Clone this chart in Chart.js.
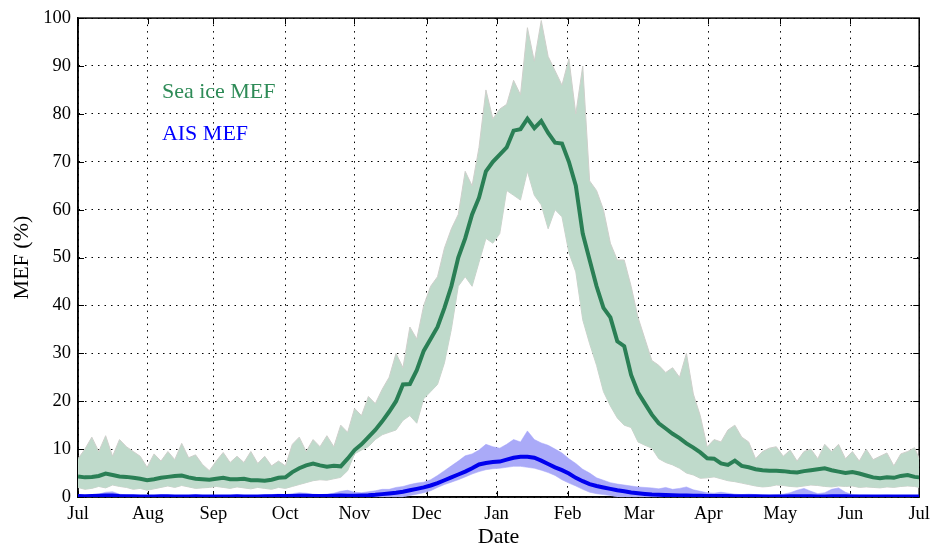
<!DOCTYPE html>
<html>
<head>
<meta charset="utf-8">
<script src="https://cdn.jsdelivr.net/npm/chart.js@4.4.0/dist/chart.umd.min.js"></script>
<style>
  html, body { margin: 0; padding: 0; background: #fff; }
  #wrap { width: 936px; height: 550px; }
</style>
</head>
<body>
<div id="wrap"><canvas id="mefChart" width="936" height="550"></canvas></div>
<script>
// day of season, counted from 1 July
const days = [0,3,6,9,12,15,18,21,24,27,30, 33,36,39,42,45,48,51,54,57,60,
  63,66,69,72,75,78,81,84,87,90, 93,96,99,102,105,108,111,114,117,120,
  123,126,129,132,135,138,141,144,147,150, 153,156,159,162,165,168,171,174,177,180,
  183,186,189,192,195,198,201,204,207,210, 213,216,219,222,225,228,231,234,237,240,
  243,246,249,252,255,258,261,264,267,270, 273,276,279,282,285,288,291,294,297,300,
  303,306,309,312,315,318,321,324,327,330, 333,336,339,342,345,348,351,354,357,360,
  363,365];

const seaIceMean = [4.3,4.1,4.2,4.4,4.9,4.6,4.3,4.2,4.0,3.8,3.5,
  3.7,4.0,4.2,4.4,4.5,4.1,3.8,3.7,3.6,3.8,
  4.0,3.7,3.7,3.8,3.5,3.5,3.4,3.6,4.0,4.1,
  5.2,6.0,6.6,7.0,6.6,6.3,6.5,6.4,8.0,9.8,
  11.0,12.5,14.0,15.8,17.8,20.0,23.5,23.6,26.5,30.5,
  33.0,35.5,39.5,44.0,50.0,54.0,59.0,62.5,68.0,70.0,
  71.5,73.0,76.5,76.8,79.0,77.0,78.5,76.0,74.0,73.8,
  70.0,65.0,55.0,49.5,44.0,39.5,37.5,32.5,31.5,25.5,
  21.8,19.5,17.2,15.4,14.3,13.2,12.3,11.2,10.3,9.3,
  8.1,8.0,7.0,6.7,7.6,6.5,6.2,5.8,5.6,5.5,
  5.5,5.4,5.2,5.1,5.4,5.6,5.8,6.0,5.6,5.3,
  5.0,5.2,4.9,4.5,4.1,3.9,4.1,4.0,4.4,4.6,
  4.2,4.1];

const seaIceHigh = [8,10,12.5,9.5,12.8,8.5,12,10.5,9.5,8.5,6.2,
  9,7.5,9.5,7.8,11.2,8.2,8.8,6.8,5.5,7.5,
  9.3,7.2,8.5,7.2,9.5,7.0,8.5,6.5,7.5,6.5,
  11,12.5,9.5,12,10.5,12.8,10.5,15,13.5,18.5,
  17,21,19.5,22.5,25,30,27,35.5,33,40,
  44,46,52,56,59,68,65,73,85,79,
  81,82,87,84,98,91,99.5,92,89,86,
  91.5,80,90,66,64,60,53,49.5,49.5,44,
  37.5,33,28.5,27.5,26,27,25,30,21.5,17,
  10.5,12,11.5,14,15,12.5,11.5,8,9.5,10.2,
  10.5,8.5,9.8,7.5,9.5,10,8,11,9.5,11,
  8,9.5,7.5,10,7.8,8.5,9.2,6.5,9,9.5,
  10.3,8];

const seaIceLow = [2.0,1.6,1.8,2.2,1.9,2.5,2.2,2.0,1.6,1.8,1.4,
  1.7,2.0,2.3,2.0,2.4,2.1,1.8,1.9,2.0,2.2,
  2.0,1.8,2.1,1.9,1.7,2.0,1.8,1.6,2.0,1.8,
  2.2,2.6,3.0,3.4,3.6,3.5,3.8,4.1,5.5,9.0,
  9.8,10.5,12.0,13.0,13.5,14.0,16.0,17.0,15.4,20.5,
  22.0,23.5,28.0,35.0,44.0,46.0,44.0,49.0,54.0,53.0,
  55,64,63,62,68,63,61,56,60,58.5,
  51,47,37,32,27.5,22,19,16.5,15,14.5,
  11.5,10.8,10.2,8,7.2,6.7,6,5,4.6,3.9,
  4.0,4.2,3.8,3.4,3.2,2.9,2.6,2.3,2.1,2.2,
  2.5,2.4,2.2,2.1,2.3,2.5,2.4,2.2,2.1,2.3,
  2.2,2.3,2.0,2.1,2.0,1.9,2.1,2.0,2.2,2.3,
  2.2,2.0];

const aisMean = [0.2,0.15,0.2,0.25,0.3,0.3,0.2,0.15,0.15,0.1,0.1,
  0.1,0.15,0.15,0.1,0.1,0.1,0.15,0.1,0.1,0.1,
  0.1,0.1,0.15,0.1,0.1,0.1,0.15,0.15,0.2,0.2,
  0.2,0.25,0.25,0.2,0.2,0.2,0.25,0.3,0.25,0.25,
  0.3,0.35,0.45,0.6,0.75,0.9,1.1,1.4,1.7,2.0,
  2.4,2.9,3.5,4.1,4.7,5.3,6.0,6.8,7.1,7.3,
  7.4,7.8,8.2,8.4,8.4,8.2,7.6,6.9,6.2,5.6,
  4.9,4.0,3.3,2.7,2.3,2.0,1.7,1.4,1.2,0.95,
  0.8,0.65,0.5,0.45,0.4,0.35,0.3,0.3,0.25,0.25,
  0.2,0.2,0.2,0.2,0.15,0.15,0.15,0.15,0.1,0.1,
  0.1,0.1,0.15,0.15,0.15,0.15,0.1,0.1,0.15,0.15,
  0.15,0.1,0.1,0.1,0.1,0.1,0.1,0.1,0.1,0.1,
  0.1,0.1];

const aisHigh = [0.3,0.3,0.4,0.6,1.0,1.1,0.6,0.4,0.3,0.3,0.3,
  0.3,0.4,0.3,0.3,0.3,0.3,0.4,0.3,0.3,0.3,
  0.3,0.3,0.4,0.3,0.3,0.3,0.4,0.5,0.6,0.5,
  0.7,0.9,0.8,0.6,0.5,0.6,0.8,1.2,1.4,1.0,
  0.9,1.1,1.3,1.6,1.6,2.0,2.2,2.6,2.9,3.1,
  3.6,4.5,5.5,6.5,7.5,8.6,9.0,9.8,11.0,10.5,
  10.2,11.0,12.0,11.5,13.8,12.0,11.3,10.8,10.0,9.2,
  8.0,7.0,5.8,5.0,4.0,3.5,3.0,2.7,2.5,2.3,
  2.1,2.0,1.9,1.7,2.0,1.6,1.8,2.1,1.5,1.2,
  0.9,0.8,1.0,0.8,0.6,0.5,0.6,0.5,0.5,0.4,
  0.5,0.6,0.9,1.4,1.8,1.2,0.7,0.9,1.6,1.9,
  1.0,0.5,0.4,0.4,0.3,0.3,0.4,0.3,0.3,0.3,
  0.3,0.3];

const aisLow = [0,0,0,0,0,0,0,0,0,0,0,
  0,0,0,0,0,0,0,0,0,0,
  0,0,0,0,0,0,0,0,0,0,
  0,0,0,0,0,0,0,0,0,0,
  0,0,0,0,0,0,0,0.3,0.6,0.9,
  1.3,2.0,2.6,3.1,3.6,4.2,4.8,5.3,5.7,5.9,
  6.0,6.2,6.4,6.4,6.2,6.0,5.6,5.1,4.5,3.6,
  2.9,2.3,1.6,1.0,0.7,0.5,0.3,0,0,0,
  0,0,0,0,0,0,0,0,0,0,
  0,0,0,0,0,0,0,0,0,0,
  0,0,0,0,0,0,0,0,0,0,
  0,0,0,0,0,0,0,0,0,0,
  0,0];

// month tick positions (days from 1 July) and labels
const monthTicks = [0, 30.3, 58.7, 89.9, 119.9, 151.3, 181.6, 212.4, 243.4, 273.5, 304.7, 335.1, 365];
const monthLabels = ["Jul","Aug","Sep","Oct","Nov","Dec","Jan","Feb","Mar","Apr","May","Jun","Jul"];

const serif = "'Liberation Serif', 'Times New Roman', serif";

function pts(ys) {
  return days.map((d, i) => ({ x: d, y: ys[i] }));
}

const frameAndTicks = {
  id: "frameAndTicks",
  beforeDatasetsDraw(chart) {
    const { ctx, chartArea: a, scales: { x, y } } = chart;
    ctx.save();
    ctx.strokeStyle = "#000";
    ctx.lineWidth = 1;
    ctx.setLineDash([]);
    ctx.beginPath();
    monthTicks.forEach((v) => {
      const px = Math.round(x.getPixelForValue(v)) + 0.5;
      ctx.moveTo(px, a.bottom); ctx.lineTo(px, a.bottom - 6);
      ctx.moveTo(px, a.top); ctx.lineTo(px, a.top + 6);
    });
    y.ticks.forEach((t) => {
      const py = Math.round(y.getPixelForValue(t.value)) + 0.5;
      ctx.moveTo(a.left, py); ctx.lineTo(a.left + 6, py);
      ctx.moveTo(a.right, py); ctx.lineTo(a.right - 6, py);
    });
    ctx.stroke();
    ctx.lineWidth = 1.5;
    ctx.strokeRect(a.left, a.top, a.right - a.left, a.bottom - a.top);
    ctx.restore();
  },
  afterDatasetsDraw(chart) {
    const { ctx, scales: { x, y } } = chart;
    ctx.save();
    ctx.font = "22px " + serif;
    ctx.textAlign = "left";
    ctx.textBaseline = "middle";
    ctx.fillStyle = "#2e8b57";
    ctx.fillText("Sea ice MEF", x.getPixelForValue(36.4), y.getPixelForValue(84.5));
    ctx.fillStyle = "#0000ff";
    ctx.fillText("AIS MEF", x.getPixelForValue(36.4), y.getPixelForValue(75.8));
    ctx.restore();
  }
};

const ctx = document.getElementById("mefChart").getContext("2d");
const mefChart = new Chart(ctx, {
  type: "line",
  data: {
    datasets: [
      {
        label: "AIS MEF",
        data: pts(aisMean),
        borderColor: "#0000ee",
        borderWidth: 4,
        pointRadius: 0,
        fill: false,
      },
      {
        label: "Sea ice MEF",
        data: pts(seaIceMean),
        borderColor: "#2a7f55",
        borderWidth: 4,
        pointRadius: 0,
        fill: false,
      },
      {
        label: "AIS high",
        data: pts(aisHigh),
        borderColor: "rgba(160,160,250,1)",
        borderWidth: 0.5,
        backgroundColor: "#aaaaf8",
        pointRadius: 0,
        fill: "+1",
      },
      {
        label: "AIS low",
        data: pts(aisLow),
        borderColor: "rgba(160,160,250,1)",
        borderWidth: 0.5,
        pointRadius: 0,
        fill: false,
      },
      {
        label: "Sea ice high",
        data: pts(seaIceHigh),
        borderColor: "#cfcfcb",
        borderWidth: 1,
        backgroundColor: "#bfdacb",
        pointRadius: 0,
        fill: "+1",
      },
      {
        label: "Sea ice low",
        data: pts(seaIceLow),
        borderColor: "#cfcfcb",
        borderWidth: 1,
        pointRadius: 0,
        fill: false,
      },
    ],
  },
  options: {
    responsive: false,
    animation: false,
    devicePixelRatio: 1,
    layout: {
      padding: { top: 18, right: 16, left: 0, bottom: 0 },
    },
    plugins: {
      legend: { display: false },
      tooltip: { enabled: false },
    },
    elements: {
      line: { tension: 0 },
    },
    scales: {
      x: {
        type: "linear",
        min: 0,
        max: 365,
        afterBuildTicks: (scale) => {
          scale.ticks = monthTicks.map((v) => ({ value: v }));
        },
        afterFit: (scale) => {
          scale.height = 53;
        },
        ticks: {
          autoSkip: false,
          maxRotation: 0,
          padding: 6,
          color: "#000",
          font: { family: serif, size: 18.5 },
          callback: (value, index) => monthLabels[index],
        },
        grid: {
          color: "#000",
          lineWidth: 1,
          drawTicks: false,
        },
        border: {
          display: true,
          color: "#000",
          width: 1.5,
          dash: [1.5, 5],
        },
        title: {
          display: true,
          text: "Date",
          color: "#000",
          font: { family: serif, size: 22 },
          padding: { top: 0, bottom: 0 },
        },
      },
      y: {
        min: 0,
        max: 100,
        afterFit: (scale) => {
          scale.width = 78;
        },
        ticks: {
          stepSize: 10,
          padding: 7,
          color: "#000",
          font: { family: serif, size: 18.5 },
        },
        grid: {
          color: "#000",
          lineWidth: 1,
          drawTicks: false,
        },
        border: {
          display: true,
          color: "#000",
          width: 1.5,
          dash: [1.5, 5],
        },
        title: {
          display: true,
          text: "MEF (%)",
          color: "#000",
          font: { family: serif, size: 22 },
          padding: { top: 9, bottom: 0 },
        },
      },
    },
  },
  plugins: [frameAndTicks],
});
</script>
</body>
</html>
